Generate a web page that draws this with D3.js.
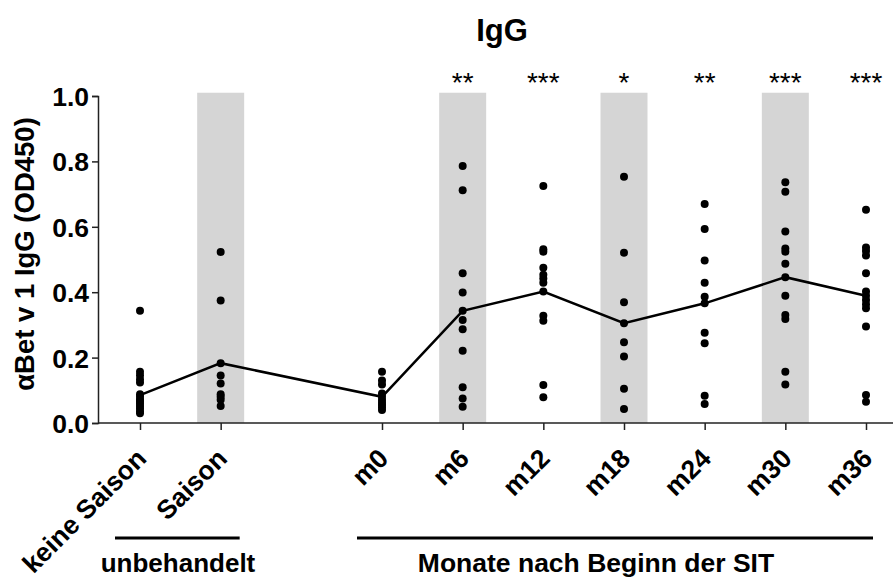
<!DOCTYPE html>
<html>
<head>
<meta charset="utf-8">
<script src="https://cdn.jsdelivr.net/npm/d3@7"></script>
<style>
  body { margin: 0; background: #fff; }
  text { font-family: "Liberation Sans", Arial, sans-serif; }
</style>
</head>
<body>
<div id="main-content"></div>
<script>
// categories (the empty slot keeps the gap between the two groups)
const slots = ["keine Saison", "Saison", "", "m0", "m6", "m12", "m18", "m24", "m30", "m36"];
const categories = ["keine Saison", "Saison", "m0", "m6", "m12", "m18", "m24", "m30", "m36"];
const shaded = ["Saison", "m6", "m18", "m30"];
const stars = ["", "", "", "**", "***", "*", "**", "***", "***"];
const yTicks = [0, 0.2, 0.4, 0.6, 0.8, 1.0];

// single values per group
const keineSaison = [0.343, 0.157, 0.146, 0.134, 0.124, 0.088, 0.080, 0.072, 0.066, 0.060, 0.052, 0.044, 0.036, 0.030];
const saison = [0.523, 0.375, 0.183, 0.145, 0.121, 0.088, 0.080, 0.071, 0.052];
const m0 = [0.157, 0.130, 0.118, 0.090, 0.080, 0.070, 0.062, 0.055, 0.048, 0.040];
const m6 = [0.786, 0.712, 0.458, 0.399, 0.343, 0.315, 0.287, 0.221, 0.109, 0.075, 0.050];
const m12 = [0.725, 0.531, 0.524, 0.475, 0.453, 0.442, 0.429, 0.402, 0.328, 0.313, 0.116, 0.079];
const m18 = [0.753, 0.521, 0.369, 0.305, 0.247, 0.203, 0.105, 0.043];
const m24 = [0.670, 0.593, 0.497, 0.429, 0.386, 0.366, 0.276, 0.244, 0.083, 0.058];
const m30 = [0.736, 0.707, 0.586, 0.534, 0.524, 0.487, 0.446, 0.389, 0.330, 0.318, 0.157, 0.118];
const m36 = [0.652, 0.537, 0.526, 0.512, 0.458, 0.402, 0.389, 0.376, 0.363, 0.351, 0.295, 0.086, 0.065];
const means = [0.085, 0.183, 0.080, 0.343, 0.402, 0.305, 0.366, 0.446, 0.389];

const groups = [keineSaison, saison, m0, m6, m12, m18, m24, m30, m36];

const width = 895, height = 579;

const svg = d3.select("#main-content")
  .append("svg")
  .attr("width", width)
  .attr("height", height);

const x = d3.scalePoint().domain(slots).range([140, 866]);
const y = d3.scaleLinear().domain([0, 1]).range([423, 96]);
const bandW = 47;

// grey columns
svg.selectAll("rect.band")
  .data(shaded)
  .enter()
  .append("rect")
  .attr("class", "band")
  .attr("x", d => x(d) - bandW / 2)
  .attr("width", bandW)
  .attr("y", y(1.01))
  .attr("height", y(0) - y(1.01))
  .attr("fill", "#d5d5d5");

// y axis
const yAxis = svg.append("g")
  .attr("transform", "translate(98,0)")
  .call(d3.axisLeft(y).tickValues(yTicks).tickFormat(d3.format(".1f")).tickSize(6).tickPadding(3));
yAxis.select(".domain").attr("stroke", "#222").attr("stroke-width", 1.5);
yAxis.selectAll(".tick line").attr("stroke", "#222").attr("stroke-width", 1.5);
yAxis.selectAll(".tick text")
  .attr("fill", "#000")
  .style("font-size", "26.5px")
  .style("font-weight", "bold")
  .attr("dy", "0.36em");

// x axis
const xAxis = svg.append("g")
  .attr("transform", "translate(0,423)")
  .call(d3.axisBottom(x).tickValues(categories).tickSize(7).tickFormat(""));
xAxis.select(".domain").remove();
xAxis.selectAll(".tick line").attr("stroke", "#222").attr("stroke-width", 1.5);
svg.append("line")
  .attr("x1", 98).attr("x2", 893)
  .attr("y1", y(0)).attr("y2", y(0))
  .attr("stroke", "#222").attr("stroke-width", 1.5);

svg.selectAll("text.xlab")
  .data(categories)
  .enter()
  .append("text")
  .attr("class", "xlab")
  .attr("transform", d => "translate(" + (x(d) + 8) + ",460) rotate(-45)")
  .attr("text-anchor", "end")
  .style("font-size", "26.5px")
  .style("font-weight", "bold")
  .text(d => d);

// dots
const dots = [];
groups.forEach((vals, i) => vals.forEach(v => dots.push({ cat: categories[i], v: v })));
svg.selectAll("circle")
  .data(dots)
  .enter()
  .append("circle")
  .attr("cx", d => x(d.cat))
  .attr("cy", d => y(d.v))
  .attr("r", 4)
  .attr("fill", "#000");

// mean line
const line = d3.line()
  .x((d, i) => x(categories[i]))
  .y(d => y(d));
svg.append("path")
  .datum(means)
  .attr("d", line)
  .attr("fill", "none")
  .attr("stroke", "#000")
  .attr("stroke-width", 2.5);

// significance stars
svg.selectAll("text.star")
  .data(stars)
  .enter()
  .append("text")
  .attr("class", "star")
  .attr("x", (d, i) => x(categories[i]))
  .attr("y", 92)
  .attr("text-anchor", "middle")
  .style("font-size", "28px")
  .text(d => d);

// title
svg.append("text")
  .attr("x", 502)
  .attr("y", 41)
  .attr("text-anchor", "middle")
  .style("font-size", "31px")
  .style("font-weight", "bold")
  .text("IgG");

// y label
svg.append("text")
  .attr("transform", "translate(34,254) rotate(-90)")
  .attr("text-anchor", "middle")
  .style("font-size", "27.5px")
  .style("font-weight", "bold")
  .text("αBet v 1 IgG (OD450)");

// group brackets
svg.append("line")
  .attr("x1", x("keine Saison") - 25).attr("x2", x("Saison") + 19)
  .attr("y1", 538).attr("y2", 538)
  .attr("stroke", "#000").attr("stroke-width", 3);
svg.append("text")
  .attr("x", 178).attr("y", 572)
  .attr("text-anchor", "middle")
  .style("font-size", "26px")
  .style("font-weight", "bold")
  .text("unbehandelt");

svg.append("line")
  .attr("x1", x("m0") - 25).attr("x2", x("m36") + 7)
  .attr("y1", 538).attr("y2", 538)
  .attr("stroke", "#000").attr("stroke-width", 3);
svg.append("text")
  .attr("x", 596).attr("y", 572)
  .attr("text-anchor", "middle")
  .style("font-size", "26.5px")
  .style("font-weight", "bold")
  .text("Monate nach Beginn der SIT");
</script>
</body>
</html>
